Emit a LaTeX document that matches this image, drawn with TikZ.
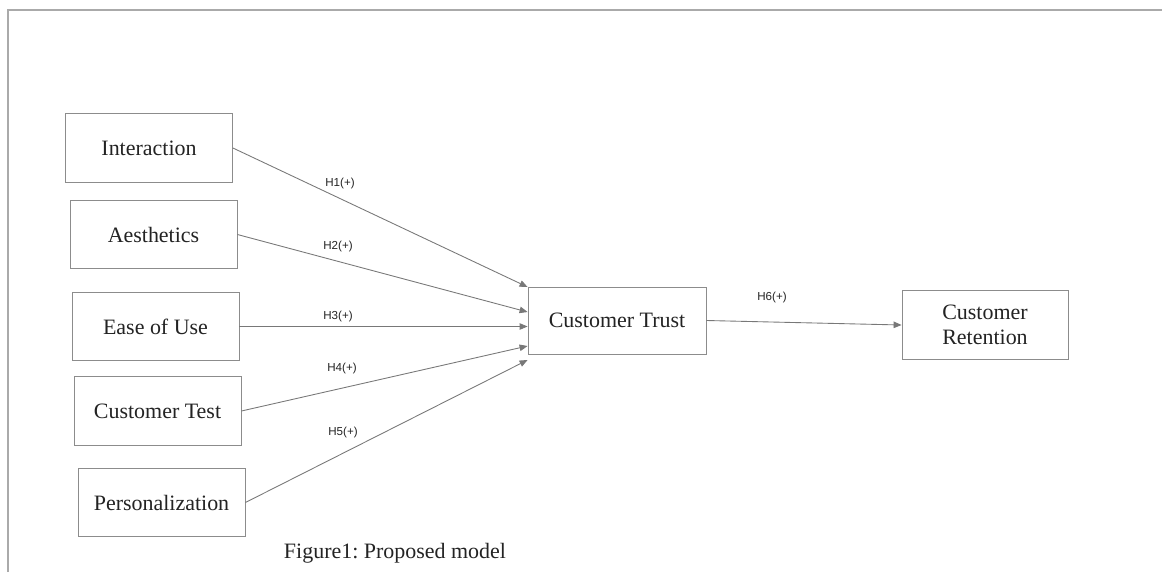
\documentclass[tikz,border=0pt]{standalone}
\usepackage{fontspec}
\setmainfont{Liberation Serif}
\newfontfamily\labfont{Liberation Sans}
\usepackage{tikz}
\usetikzlibrary{calc, arrows.meta, positioning}
\definecolor{framegray}{RGB}{170,170,170}
\definecolor{boxgray}{RGB}{140,140,140}
\definecolor{linegray}{RGB}{120,120,120}
\definecolor{textgray}{RGB}{35,35,35}
\frenchspacing

\begin{document}
\begin{tikzpicture}[
  x=0.02cm, y=-0.02cm,
  >={Triangle[length=1.6mm, width=1.3mm]},
  every node/.style={font=\fontsize{12.5}{14.5}\selectfont, text=textgray},
  construct/.style={draw=boxgray, line width=0.5pt, fill=white,
                    minimum width=3.34cm, minimum height=1.37cm, align=center},
  hyp/.style={->, linegray, line width=0.5pt},
  hlab/.style={font=\labfont\fontsize{6.6}{8}\selectfont, inner sep=1pt}
]
\useasboundingbox (0,0) rectangle (1162,572);
\draw[framegray, line width=1.2pt] (8,572) -- (8,10) -- (1162,10);
% antecedents
\node[construct] (inter) at (149,148)   {Interaction};
\node[construct] (aest)  at (153.5,234.5) {Aesthetics};
\node[construct] (ease)  at (155.5,326.5) {Ease of Use};
\node[construct] (test)  at (157.5,411) {Customer Test};
\node[construct] (pers)  at (161.5,502.5) {Personalization};
% mediator and outcome
\node[construct, minimum width=3.56cm, minimum height=1.34cm] (trust) at (617,320.5) {Customer Trust};
\node[construct, minimum width=3.32cm] (reten) at (985,325) {Customer\\Retention};
\draw[hyp] (inter.east) -- ($(trust.west)+(0,-33.5)$);
\draw[hyp] (aest.east)  -- ($(trust.west)+(0,-8.5)$);
\draw[hyp] (ease.east)  -- ($(trust.west)+(0,6)$);
\draw[hyp] (test.east)  -- ($(trust.west)+(0,25.5)$);
\draw[hyp] (pers.east)  -- ($(trust.west)+(0,39.5)$);
\draw[hyp] (trust.east) -- (reten.west);
\node[hlab] (h1) at (340,183) {H1(+)};
\node[hlab] (h2) at (338,246) {H2(+)};
\node[hlab] (h3) at (338,316) {H3(+)};
\node[hlab] (h4) at (342,368) {H4(+)};
\node[hlab] (h5) at (343,432) {H5(+)};
\node[hlab] (h6) at (772,297) {H6(+)};
\node (caption) at (395,553) {Figure1: Proposed model};
\end{tikzpicture}
\end{document}
